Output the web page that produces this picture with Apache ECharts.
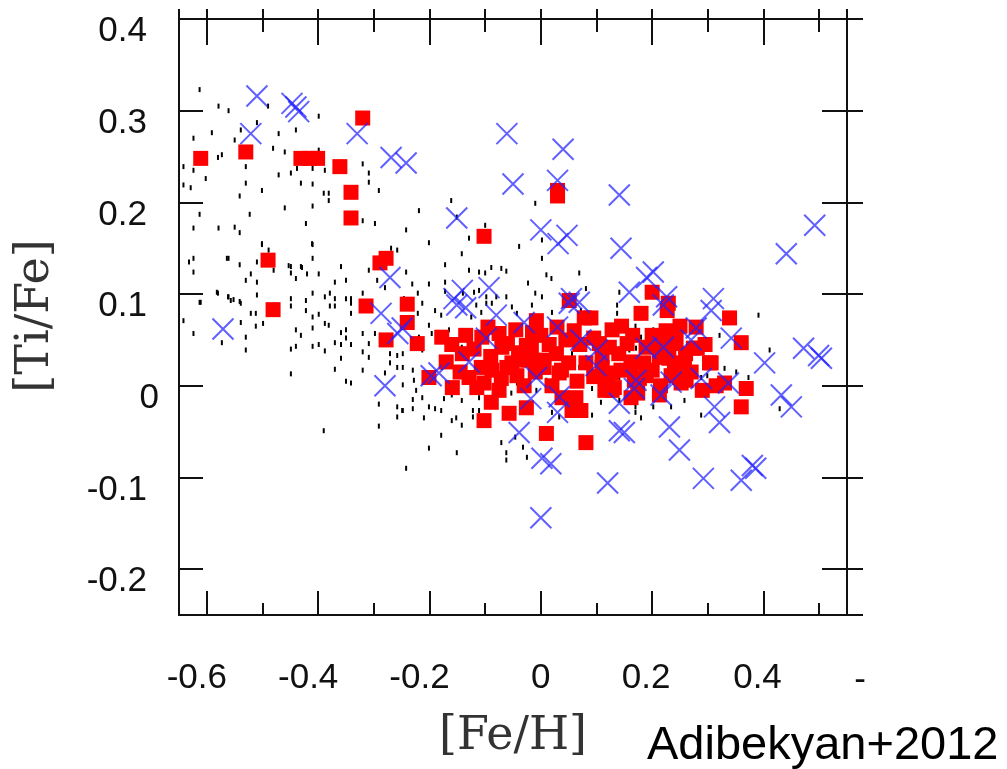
<!DOCTYPE html>
<html>
<head>
<meta charset="utf-8">
<script src="https://cdn.jsdelivr.net/npm/echarts@6/dist/echarts.min.js"></script>
<style>
html,body{margin:0;padding:0;background:#fff;}
#chart{width:1007px;height:769px;}
</style>
</head>
<body>
<div id="chart"></div>
<script>
// ---- tick values ----
const X_MAJOR = [-0.6, -0.4, -0.2, 0, 0.2, 0.4];
const X_MINOR = [-0.5, -0.3, -0.1, 0.1, 0.3, 0.5];
const X_NEG_LABELS = [-0.6, -0.4, -0.2];
const X_POS_LABELS = [0.2, 0.4];
const X_ZERO_LABEL = [0];
const Y_TICKS = [-0.2, -0.1, 0, 0.1, 0.2, 0.3];
const Y_NONZERO_LABELS = [-0.2, -0.1, 0.1, 0.2, 0.3, 0.4];
const Y_ZERO_LABEL = [0];
const X_RANGE = [-0.65, 0.55];
const Y_RANGE = [-0.25, 0.4];

// ---- data: [Fe/H], [Ti/Fe] ----
const fieldStars = [
[-0.613,0.323],[-0.579,0.305],[-0.561,0.300],[-0.490,0.305],[-0.399,0.294],[-0.440,0.279],[-0.591,0.276],[-0.539,0.279],[-0.510,0.287],[-0.471,0.275],
[-0.624,0.270],[-0.550,0.268],[-0.481,0.259],[-0.460,0.255],[-0.399,0.257],[-0.580,0.249],[-0.573,0.252],[-0.642,0.239],[-0.624,0.235],[-0.530,0.239],
[-0.438,0.237],[-0.410,0.237],[-0.388,0.235],[-0.449,0.232],[-0.320,0.242],[-0.309,0.232],[-0.602,0.226],[-0.642,0.219],[-0.629,0.216],[-0.530,0.221],
[-0.471,0.230],[-0.431,0.221],[-0.410,0.220],[-0.309,0.222],[-0.501,0.213],[-0.390,0.210],[-0.381,0.210],[-0.291,0.213],[-0.541,0.207],[-0.381,0.202],
[-0.460,0.194],[-0.410,0.196],[-0.613,0.187],[-0.523,0.187],[-0.422,0.177],[-0.298,0.177],[-0.320,0.180],[-0.624,0.172],[-0.579,0.172],[-0.550,0.173],
[-0.541,0.167],[-0.501,0.154],[-0.410,0.154],[-0.269,0.150],[-0.258,0.148],[-0.624,0.139],[-0.561,0.139],[-0.510,0.135],[-0.410,0.139],[-0.541,0.132],
[-0.480,0.126],[-0.449,0.130],[-0.431,0.130],[-0.359,0.130],[-0.624,0.124],[-0.521,0.122],[-0.449,0.123],[-0.420,0.122],[-0.399,0.122],[-0.309,0.126],
[-0.530,0.115],[-0.510,0.113],[-0.440,0.117],[-0.370,0.113],[-0.350,0.115],[-0.280,0.107],[-0.580,0.101],[-0.561,0.097],[-0.552,0.094],[-0.541,0.092],
[-0.510,0.099],[-0.449,0.095],[-0.422,0.093],[-0.410,0.101],[-0.388,0.097],[-0.379,0.101],[-0.370,0.095],[-0.350,0.095],[-0.341,0.095],[-0.320,0.101],
[-0.294,0.115],[-0.613,0.091],[-0.557,0.093],[-0.539,0.090],[-0.521,0.079],[-0.512,0.079],[-0.539,0.069],[-0.499,0.068],[-0.512,0.065],[-0.642,0.071],
[-0.624,0.057],[-0.573,0.047],[-0.530,0.053],[-0.530,0.039],[-0.449,0.087],[-0.422,0.082],[-0.410,0.075],[-0.399,0.078],[-0.388,0.068],[-0.379,0.087],
[-0.370,0.087],[-0.341,0.090],[-0.341,0.079],[-0.440,0.061],[-0.431,0.055],[-0.410,0.063],[-0.381,0.066],[-0.359,0.058],[-0.350,0.061],[-0.350,0.052],
[-0.370,0.047],[-0.359,0.045],[-0.341,0.045],[-0.449,0.040],[-0.440,0.043],[-0.410,0.043],[-0.399,0.045],[-0.388,0.038],[-0.359,0.030],[-0.370,0.018],
[-0.449,0.013],[-0.350,0.005],[-0.341,0.003],[-0.320,0.057],[-0.320,0.037],[-0.320,0.017],[-0.309,0.046],[-0.309,0.031],[-0.298,0.057],[-0.271,0.035],
[-0.271,0.025],[-0.258,0.033],[-0.258,0.020],[-0.280,0.014],[-0.291,-0.020],[-0.291,-0.044],[-0.258,-0.023],[-0.258,-0.034],[-0.249,-0.027],[-0.390,-0.049],
[-0.213,0.090],[-0.221,0.079],[-0.190,0.082],[-0.179,0.077],[-0.201,0.066],[-0.248,0.035],[-0.248,0.020],[-0.248,0.001],[-0.230,0.017],[-0.230,-0.015],
[-0.248,-0.027],[-0.230,-0.025],[-0.213,-0.013],[-0.210,-0.035],[-0.201,-0.023],[-0.190,-0.025],[-0.179,-0.027],[-0.174,-0.014],[-0.160,-0.010],[-0.160,-0.038],
[-0.152,-0.035],[-0.142,-0.016],[-0.142,-0.043],[-0.122,-0.027],[-0.122,-0.034],[-0.111,-0.013],[-0.111,-0.027],[-0.151,-0.073],[-0.201,-0.068],[-0.179,-0.054],
[-0.242,-0.090],[-0.071,-0.062],[-0.062,-0.073],[-0.062,-0.081],[-0.046,-0.056],[-0.032,-0.067],[-0.025,-0.078],[-0.028,0.001],[-0.043,0.003],[-0.008,-0.005],
[0.020,-0.029],[0.033,-0.034],[0.069,-0.016],[0.092,-0.032],[0.108,-0.018],[0.105,-0.002],[0.092,-0.003],[0.060,0.008],[0.010,0.006],[-0.165,0.061],
[-0.165,0.003],[-0.151,-0.005],[-0.219,0.053],[-0.213,0.039],[-0.178,0.020],[-0.224,-0.005],[-0.228,0.006],[-0.196,0.057],[-0.142,0.042],[-0.125,0.053],
[-0.075,0.061],[-0.080,0.028],[-0.077,0.009],[-0.052,0.061],[-0.120,0.011],[-0.053,-0.008],[0.010,0.050],[0.019,0.047],[0.051,0.050],[0.056,0.035],
[0.069,0.020],[0.105,0.025],[0.110,0.050],[0.137,0.088],[0.137,0.079],[0.141,0.009],[0.141,-0.016],[-0.116,0.088],[-0.107,0.080],[-0.098,0.090],
[-0.088,0.090],[-0.125,0.075],[-0.052,0.086],[-0.043,0.079],[-0.016,0.088],[0.020,0.080],[0.056,0.088],[0.072,0.082],[0.099,0.075],
[-0.161,0.202],[-0.219,0.191],[-0.242,0.170],[-0.201,0.156],[-0.151,0.184],[-0.129,0.161],[-0.100,0.175],[-0.142,0.144],[-0.172,0.132],[-0.129,0.126],
[-0.111,0.124],[-0.100,0.123],[-0.089,0.129],[-0.071,0.128],[-0.062,0.125],[-0.010,0.199],[-0.039,0.152],[0.002,0.159],[0.002,0.139],[0.010,0.121],
[0.019,0.117],[-0.023,0.112],[-0.242,0.124],[-0.231,0.111],[-0.201,0.111],[-0.172,0.113],[-0.172,0.103],[-0.140,0.101],[-0.120,0.102],[-0.111,0.104],
[-0.098,0.097],[-0.080,0.097],[-0.062,0.097],[-0.010,0.101],[0.002,0.097],[0.069,0.123],[0.081,0.106],[0.141,0.102],[-0.221,0.101],[-0.246,0.095],
[0.391,0.077],[0.170,0.065],[0.202,0.061],[0.222,0.050],[0.180,0.053],[0.159,0.047],[0.159,0.039],[0.171,0.041],[0.301,0.050],[0.321,0.055],
[0.411,0.039],[0.330,0.019],[0.351,0.015],[0.373,0.009],[0.299,0.011],[0.288,0.009],[0.258,-0.016],[0.234,-0.023],[0.202,-0.023],[0.170,-0.023],
[0.170,-0.029],[0.180,-0.035],[0.288,-0.032],[0.429,-0.025],[0.159,0.003],[0.220,0.004],[0.153,0.028],[0.153,-0.013],
[-0.501,0.155],[-0.489,0.148],[-0.411,0.155],[-0.453,0.131],[-0.429,0.129],[-0.632,0.135],[-0.564,0.139],[-0.611,0.091],[-0.582,0.102],[-0.562,0.097]
];

const redStars = [
[-0.611,0.248],[-0.530,0.255],[-0.320,0.292],[-0.431,0.248],[-0.415,0.248],[-0.401,0.248],[-0.361,0.239],[-0.341,0.211],[-0.341,0.183],[-0.490,0.137],
[-0.289,0.134],[-0.278,0.139],[-0.481,0.083],[-0.314,0.087],[-0.278,0.050],[-0.240,0.089],[-0.240,0.069],[-0.222,0.046],[-0.178,0.053],[-0.170,0.026],
[-0.141,0.035],[-0.201,0.009],[-0.159,-0.002],[-0.106,0.053],[-0.107,0.020],[-0.102,0.003],[-0.089,-0.018],[-0.102,-0.038],[-0.075,0.057],[-0.070,0.042],
[-0.071,0.008],[-0.057,-0.030],[-0.052,0.025],[-0.043,0.011],[-0.017,0.042],[-0.008,0.071],[-0.021,0.028],[0.006,0.020],[0.028,0.035],[0.033,0.014],
[0.029,0.064],[0.078,0.074],[0.010,-0.052],[0.056,-0.027],[0.072,-0.027],[0.081,-0.062],[0.038,-0.013],[0.081,0.025],[0.110,0.031],[0.128,0.061],
[0.119,0.009],[0.132,-0.002],[-0.061,0.020],[-0.026,0.044],[0.051,0.093],[-0.026,-0.024],[0.063,-0.013],[0.090,0.074],[0.105,0.046],[0.128,0.014],
[0.128,-0.005],[0.180,0.079],[0.200,0.102],[0.227,0.082],[0.189,0.042],[0.164,0.026],[0.177,0.008],[0.200,0.017],[0.213,-0.010],[0.236,0.046],
[0.240,0.025],[0.249,0.009],[0.279,0.064],[0.281,0.041],[0.261,0.006],[0.290,-0.005],[0.306,0.025],[0.339,0.074],[0.360,0.047],[0.330,0.003],
[0.369,-0.003],[0.360,-0.023],[0.030,0.207],[0.030,0.213],[-0.102,0.163],[0.229,0.090],[0.243,0.050],[0.274,0.041],[0.162,0.022],[0.213,0.031],
[0.258,0.022],[0.303,0.025],[0.144,0.017],[0.168,0.006],[0.252,0.003],[0.162,-0.013],[0.189,0.011],[0.234,0.011],[-0.129,0.009],[-0.039,0.028],
[-0.045,0.061],[0.002,0.028],[0.037,0.017],[-0.088,0.017],[0.123,0.042],[0.174,-0.008],
[-0.120,0.040],[-0.090,0.032],[-0.060,0.046],[-0.040,0.036],[-0.030,0.000],[-0.010,0.015],[0.015,0.045],[0.020,0.000],[0.045,0.050],[0.050,0.025],
[-0.115,-0.002],[-0.075,-0.005],[0.000,0.055],[-0.095,0.064],[0.070,0.045],[0.095,0.010],[0.095,0.052],[0.115,-0.005],[0.140,0.035],[0.155,0.046],
[0.185,0.025],[0.200,0.055],[0.215,0.000],[0.225,0.060],[0.260,0.035],[0.270,0.015],[0.295,0.045],[0.315,0.000],[0.145,0.065],[0.165,0.055],
[0.060,0.060],[-0.145,0.015],[-0.160,0.045],[0.230,0.030],[0.210,0.045],[-0.015,0.058],[0.065,0.005],[0.110,0.020],[-0.135,0.055],[0.250,0.065]
];

const blueStars = [
[-0.510,0.316],[-0.447,0.308],[-0.440,0.304],[-0.435,0.299],[-0.521,0.275],[-0.330,0.275],[-0.269,0.249],[-0.242,0.243],[-0.571,0.062],[-0.061,0.275],
[0.040,0.258],[-0.050,0.220],[0.030,0.224],[-0.151,0.183],[0.000,0.170],[0.047,0.164],[0.031,0.155],[0.141,0.208],[0.144,0.150],[-0.141,0.104],
[-0.093,0.107],[-0.156,0.095],[0.055,0.095],[0.069,0.091],[0.202,0.124],[0.190,0.118],[0.159,0.102],[0.226,0.097],[0.310,0.095],[0.441,0.144],
[0.492,0.175],[0.220,0.088],[0.306,0.082],[0.279,0.063],[0.342,0.052],[0.270,0.050],[0.189,0.041],[0.220,0.042],[0.402,0.025],[0.472,0.041],
[0.499,0.033],[0.504,0.030],[0.168,-0.003],[0.234,0.004],[0.288,0.008],[0.337,0.003],[0.216,-0.010],[0.312,-0.023],[0.321,-0.040],[0.432,-0.010],
[0.450,-0.023],[0.150,-0.051],[0.231,-0.045],[0.249,-0.070],[0.292,-0.101],[0.360,-0.103],[0.380,-0.087],[0.386,-0.090],[-0.151,0.088],[-0.080,0.077],
[-0.030,0.069],[0.030,0.064],[0.051,0.090],[-0.098,0.052],[0.072,0.050],[0.101,0.039],[0.099,0.022],[-0.129,0.026],[-0.197,0.011],[-0.183,0.014],
[-0.008,0.009],[-0.018,-0.014],[0.033,-0.012],[0.030,-0.029],[-0.039,-0.051],[0.002,-0.079],[0.018,-0.085],[0.120,-0.106],[0.000,-0.144],[-0.249,0.063],
[0.141,-0.019],[0.141,-0.049],[-0.287,0.079],[-0.280,0.000],[-0.257,0.057],[-0.271,0.118],[-0.135,0.085],[0.171,0.006]
];

const chart = echarts.init(document.getElementById('chart'), null, {renderer: 'canvas'});
const AX = '#111';
const LABEL_FONT = {fontFamily: '"Liberation Sans", Arial, sans-serif', fontSize: 35, color: '#111'};
const fmt = v => (Math.abs(v) < 1e-9 ? '0' : v.toFixed(1));
const lineOn = {show: true, onZero: false, lineStyle: {color: AX, width: 2}};
const lineOff = {show: false, onZero: false};

function xAx(o) {
  return Object.assign({
    type: 'value', min: X_RANGE[0], max: X_RANGE[1], gridIndex: 0,
    splitLine: {show: false},
    axisLine: lineOff,
    axisTick: {show: false},
    axisLabel: {show: false}
  }, o);
}
function yAx(o) {
  return Object.assign({
    type: 'value', min: Y_RANGE[0], max: Y_RANGE[1], gridIndex: 0,
    splitLine: {show: false},
    axisLine: lineOff,
    axisTick: {show: false},
    axisLabel: {show: false}
  }, o);
}
const tick = (vals, len, inside) => ({show: true, inside: inside, length: len, customValues: vals, lineStyle: {color: AX, width: 2}});
const xLab = (vals, pad) => Object.assign({show: true, customValues: vals, margin: 46, formatter: fmt, padding: pad}, LABEL_FONT);
const yLab = (vals, pad) => Object.assign({show: true, customValues: vals, margin: 20, formatter: fmt, padding: pad, verticalAlign: 'top', lineHeight: 25}, LABEL_FONT);

const option = {
  animation: false,
  backgroundColor: '#fff',
  grid: {left: 179, top: 19, right: 160, bottom: 154, outerBoundsMode: 'none', containLabel: false},
  xAxis: [
    xAx({position: 'bottom', axisLine: lineOn, axisTick: tick(X_MAJOR, 24, true), axisLabel: xLab(X_NEG_LABELS, [0, 20, 0, 0])}),
    xAx({position: 'bottom', axisTick: tick(X_MINOR, 12, true), axisLabel: xLab(X_POS_LABELS, [0, 12, 0, 0])}),
    xAx({position: 'bottom', axisLabel: xLab(X_ZERO_LABEL, [0, 0, 0, 0])}),
    xAx({position: 'top', axisLine: lineOn, axisTick: tick(X_MAJOR, 26, true)}),
    xAx({position: 'top', axisTick: tick(X_MINOR, 13, true)}),
    xAx({position: 'top', axisTick: tick([X_RANGE[0]].concat(X_MAJOR, X_MINOR, [X_RANGE[1]]), 10, false)})
  ],
  yAxis: [
    yAx({position: 'left', axisLine: lineOn, axisTick: tick(Y_TICKS, 24, true), axisLabel: yLab(Y_NONZERO_LABELS, [0, 12, 0, 0])}),
    yAx({position: 'left', axisLabel: yLab(Y_ZERO_LABEL, [0, 0, 0, 0])}),
    yAx({position: 'right', axisLine: lineOn, axisTick: tick(Y_TICKS, 25, true)}),
    yAx({position: 'right', axisTick: tick([Y_RANGE[0]].concat(Y_TICKS, [Y_RANGE[1]]), 16, false)})
  ],
  series: [
    {type: 'scatter', xAxisIndex: 0, yAxisIndex: 0, data: fieldStars, symbol: 'rect', symbolSize: [2, 5],
     itemStyle: {color: '#000', opacity: 1}, silent: true, z: 2},
    {type: 'scatter', xAxisIndex: 0, yAxisIndex: 0, data: redStars, symbol: 'rect', symbolSize: 15,
     itemStyle: {color: '#ff0000', opacity: 1}, silent: true, z: 3},
    {type: 'scatter', xAxisIndex: 0, yAxisIndex: 0, data: blueStars, symbol: 'path://M0 0L10 10M10 0L0 10', symbolSize: 21,
     itemStyle: {color: 'rgba(0,0,0,0)', borderColor: 'rgba(35,35,255,0.72)', borderWidth: 2, opacity: 1}, silent: true, z: 4}
  ],
  graphic: [
    {type: 'text', x: 36, y: 316, rotation: Math.PI / 2,
     style: {text: '[Ti/Fe]', font: '46px "DejaVu Serif", serif', fill: '#333', align: 'center', verticalAlign: 'middle'}},
    {type: 'text', x: 513, y: 737,
     style: {text: '[Fe/H]', font: '46px "DejaVu Serif", serif', fill: '#333', align: 'center', verticalAlign: 'middle'}},
    {type: 'text', x: 860, y: 680,
     style: {text: '-', font: '35px "Liberation Sans", Arial, sans-serif', fill: '#111', align: 'center', verticalAlign: 'middle'}},
    {type: 'text', x: 647, y: 746,
     style: {text: 'Adibekyan+2012', font: '47px "Liberation Sans", Arial, sans-serif', fill: '#000', align: 'left', verticalAlign: 'middle'}}
  ]
};
chart.setOption(option);
</script>
</body>
</html>
